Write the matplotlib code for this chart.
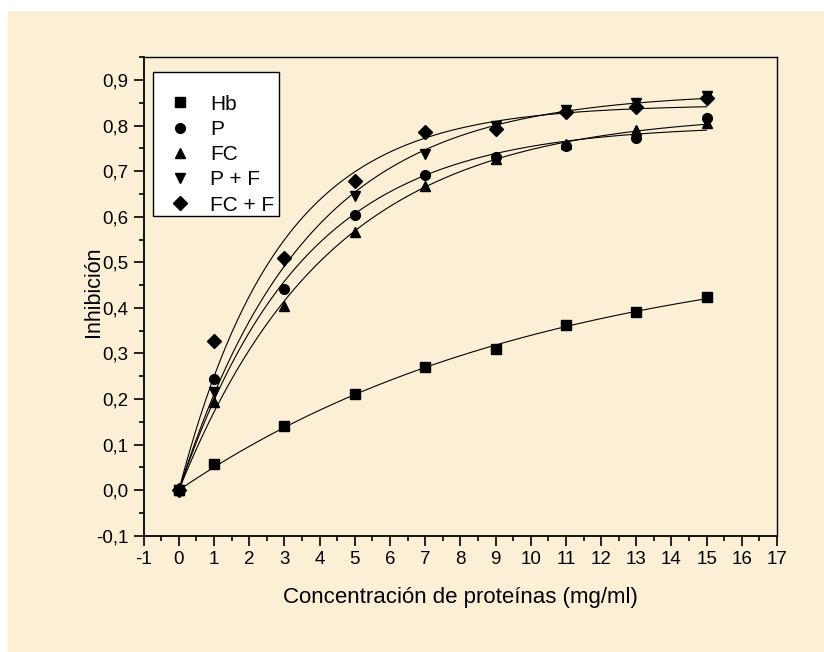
import numpy as np
import matplotlib
matplotlib.use('Agg')
import matplotlib.pyplot as plt
from matplotlib.patches import Rectangle
from matplotlib.ticker import MultipleLocator, FuncFormatter

plt.rcParams.update({
    'font.family': ['Liberation Sans', 'DejaVu Sans'],
    'font.size': 11,
})

# concentración de proteínas (mg/ml)
conc = [0, 1, 3, 5, 7, 9, 11, 13, 15]

# inhibición por serie
hb = [0.0, 0.057, 0.140, 0.211, 0.270, 0.310, 0.362, 0.390, 0.424]
p = [0.0, 0.243, 0.441, 0.603, 0.692, 0.732, 0.755, 0.772, 0.818]
fc = [0.0, 0.193, 0.405, 0.567, 0.668, 0.727, 0.760, 0.790, 0.805]
p_f = [0.0, 0.215, 0.503, 0.645, 0.738, 0.800, 0.835, 0.850, 0.865]
fc_f = [0.0, 0.328, 0.510, 0.678, 0.787, 0.793, 0.830, 0.840, 0.860]

labels = ['Hb', 'P', 'FC', 'P + F', 'FC + F']
markers = ['s', 'o', '^', 'v', 'D']
series = [hb, p, fc, p_f, fc_f]


def fit_exp(x, y):
    # y = A * (1 - exp(-x / t)), t por barrido, A por minimos cuadrados
    x = np.asarray(x, float)
    y = np.asarray(y, float)
    best = None
    for t in np.linspace(0.5, 60, 6000):
        f = 1 - np.exp(-x / t)
        a = (f @ y) / (f @ f)
        err = np.sum((y - a * f) ** 2)
        if best is None or err < best[0]:
            best = (err, a, t)
    return best[1], best[2]


fig = plt.figure(figsize=(8.24, 6.52), dpi=100)
fig.patch.set_facecolor('white')
fig.patches.append(Rectangle((8 / 824, 0), 1, 1 - 11 / 652, transform=fig.transFigure,
                             facecolor='#FBF0D6', edgecolor='none', zorder=0))

ax = fig.add_axes([0.1744, 0.1784, 0.7686, 0.7336])
ax.set_zorder(2)
ax.set_facecolor('none')

xs = np.linspace(0, 15, 300)
handles = []
for y, lab, m in zip(series, labels, markers):
    a, t = fit_exp(conc, y)
    ax.plot(xs, a * (1 - np.exp(-xs / t)), color='black', lw=0.8, zorder=2)
    h, = ax.plot(conc, y, ls='none', marker=m, ms=7, color='black', zorder=3, label=lab)
    handles.append(h)

ax.set_xlim(-1, 17)
ax.set_ylim(-0.1, 0.95)
ax.xaxis.set_major_locator(MultipleLocator(1))
ax.xaxis.set_minor_locator(MultipleLocator(0.5))
ax.yaxis.set_major_locator(MultipleLocator(0.1))
ax.yaxis.set_minor_locator(MultipleLocator(0.05))
ax.yaxis.set_major_formatter(FuncFormatter(lambda v, pos: f'{v:.1f}'.replace('.', ',').replace('-0,0', '0,0')))
ax.xaxis.set_major_formatter(FuncFormatter(lambda v, pos: f'{v:.0f}'))
ax.tick_params(which='major', direction='out', length=7, width=1.2, labelsize=13.5, pad=4)
ax.tick_params(which='minor', direction='out', length=3.5, width=1.2)
for s in ax.spines.values():
    s.set_linewidth(1.0)
ax.spines['left'].set_linewidth(1.3)
ax.spines['bottom'].set_linewidth(1.3)

ax.set_xlabel('Concentración de proteínas (mg/ml)', fontsize=16, labelpad=14)
ax.set_ylabel('Inhibición', fontsize=15.5)
ax.yaxis.set_label_coords(-0.063, 0.51)

# caja de la leyenda dibujada aparte (relleno blanco, borde negro)
ax.add_patch(Rectangle((0.0147, 0.668), 0.1989, 0.301, transform=ax.transAxes,
                       facecolor='white', edgecolor='black', lw=1.0, zorder=4))
leg = ax.legend(handles=handles, loc='upper left', bbox_to_anchor=(0.041, 0.922),
                borderaxespad=0, borderpad=0, fontsize=15, frameon=False,
                handlelength=1.0, handletextpad=0.95, labelspacing=0.3)
leg.set_zorder(5)

fig.savefig('out.png', dpi=100, facecolor=fig.get_facecolor())
